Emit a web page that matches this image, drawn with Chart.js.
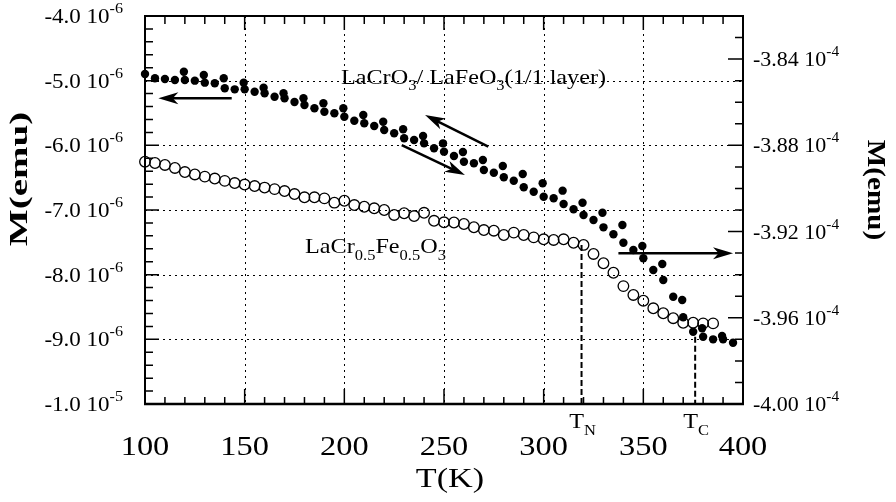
<!DOCTYPE html>
<html>
<head>
<meta charset="utf-8">
<title>M(T)</title>
<script src="https://cdn.jsdelivr.net/npm/chart.js@4.4.1/dist/chart.umd.min.js"></script>
<style>
  html, body { margin: 0; padding: 0; background: #fff; }
  canvas { display: block; }
</style>
</head>
<body>
<canvas id="chart" width="896" height="502"></canvas>
<script>
// LaCr0.5Fe0.5O3 (open circles), right axis, M in units of 1e-4 emu
const tempOpen = [100,105,110,115,120,125,130,135,140,145,150,155,160,165,170,175,180,185,190,195,
  200,205,210,215,220,225,230,235,240,245,250,255,260,265,270,275,280,285,290,295,
  300,305,310,315,320,325,330,335,340,345,350,355,360,365,370,375,380,385];
const momentOpen = [-3.8876,-3.8882,-3.8891,-3.8905,-3.8924,-3.8935,-3.8945,-3.8954,-3.8965,-3.8975,
  -3.8982,-3.8989,-3.8996,-3.9003,-3.9012,-3.9026,-3.9041,-3.9041,-3.9046,-3.9066,
  -3.9057,-3.9077,-3.9085,-3.9092,-3.9100,-3.9123,-3.9115,-3.9128,-3.9113,-3.9150,
  -3.9157,-3.9158,-3.9165,-3.9180,-3.9193,-3.9196,-3.9216,-3.9205,-3.9216,-3.9227,
  -3.9236,-3.9239,-3.9236,-3.9252,-3.9262,-3.9304,-3.9347,-3.9391,-3.9453,-3.9494,
  -3.9521,-3.9556,-3.9579,-3.9602,-3.9623,-3.9623,-3.9626,-3.9626];

// LaCrO3/LaFeO3 superlattice (filled dots), left axis, M in units of 1e-6 emu
const tempFilledA = [100,105,110,115,120,125,130,135,140,145,150,155,160,165,170,175,180,185,190,195,
  200,205,210,215,220,225,230,235,240,245,250,255,260,265,270,275,280,285,290,295,
  300,305,310,315,320,325,330,335,340,345,350,355,360,365,370,375,380,385,390,395];
const momentFilledA = [-4.897,-4.963,-4.974,-4.990,-4.990,-5.000,-5.031,-5.041,-5.118,-5.134,
  -5.134,-5.171,-5.195,-5.248,-5.273,-5.330,-5.376,-5.427,-5.480,-5.505,
  -5.557,-5.619,-5.659,-5.701,-5.763,-5.814,-5.891,-5.918,-5.969,-6.046,
  -6.098,-6.165,-6.253,-6.278,-6.381,-6.423,-6.494,-6.547,-6.649,-6.717,
  -6.794,-6.819,-6.907,-6.989,-7.077,-7.155,-7.268,-7.376,-7.506,-7.619,
  -7.747,-7.928,-8.082,-8.341,-8.659,-8.882,-8.959,-9.000,-9.000,-9.052];
const tempFilledB = [119.5,129.5,139.5,149.5,159.5,169.5,179.5,189.5,199.5,209.5,219.5,229.5,239.5,249.5,
  259.5,269.5,279.5,289.5,299.5,309.5,319.5,329.5,339.5,349.5,359.5,369.5,379.5,389.5];
const momentFilledB = [-4.861,-4.912,-4.963,-5.031,-5.109,-5.195,-5.273,-5.350,-5.427,-5.531,
  -5.635,-5.752,-5.856,-5.969,-6.103,-6.227,-6.320,-6.443,-6.587,-6.701,
  -6.887,-7.042,-7.232,-7.557,-7.835,-8.392,-8.829,-8.948];

const xTicks = [100, 150, 200, 250, 300, 350, 400];
const xGrid = [150, 200, 250, 300, 350];
const leftTicks = [-4, -5, -6, -7, -8, -9, -10];
const leftTickLabels = [['-4.0', '-6'], ['-5.0', '-6'], ['-6.0', '-6'], ['-7.0', '-6'],
  ['-8.0', '-6'], ['-9.0', '-6'], ['-1.0', '-5']];
const leftGrid = [-5, -6, -7, -8, -9];
const rightTicks = [-3.84, -3.88, -3.92, -3.96, -4.00];
const rightTickLabels = [['-3.84', '-4'], ['-3.88', '-4'], ['-3.92', '-4'], ['-3.96', '-4'], ['-4.00', '-4']];

// transition temperatures (dashed lines), top end in left-axis units
const transitionNames = ['N', 'C'];
const transitionTemps = [319, 376];
const transitionTops = [-7.54, -8.96];

// arrows: [T1, M1, T2, M2] in left-axis coordinates
const arrows = [
  [143.5, -5.273, 106.7, -5.273],
  [272.2, -6.021, 240.5, -5.531],
  [228.8, -5.995, 260.5, -6.459],
  [337.5, -7.670, 395.0, -7.670]
];
const sampleLabels = [
  { parts: [['LaCrO', 'n'], ['3', 'sub'], ['/ LaFeO', 'n'], ['3', 'sub'], ['(1/1 layer)', 'n']], temp: 198.3, m: -5.044 },
  { parts: [['LaCr', 'n'], ['0.5', 'sub'], ['Fe', 'n'], ['0.5', 'sub'], ['O', 'n'], ['3', 'sub']], temp: 180.3, m: -7.670 }
];

const FONT = '"Liberation Serif", "Times New Roman", serif';

function toPoints(xs, ys) {
  return xs.map((t, i) => ({ x: t, y: ys[i] }));
}

// draws text made of normal / sub / sup pieces, stretched horizontally by sx
function richText(ctx, parts, x, y, size, align, sx, bold) {
  const w8 = bold ? 'bold ' : '';
  const fontFor = (k) => w8 + (k === 'n' ? size : Math.round(size * 0.68)) + 'px ' + FONT;
  ctx.save();
  ctx.translate(x, y);
  ctx.scale(sx, 1);
  ctx.textAlign = 'left';
  ctx.textBaseline = 'alphabetic';
  let w = 0;
  parts.forEach(p => { ctx.font = fontFor(p[1]); w += ctx.measureText(p[0]).width; });
  let cx = align === 'right' ? -w : align === 'center' ? -w / 2 : 0;
  parts.forEach(p => {
    ctx.font = fontFor(p[1]);
    const dy = p[1] === 'sub' ? size * 0.3 : p[1] === 'sup' ? -size * 0.5 : 0;
    ctx.fillText(p[0], cx, dy);
    cx += ctx.measureText(p[0]).width;
  });
  ctx.restore();
}

function drawArrow(ctx, x1, y1, x2, y2) {
  const ang = Math.atan2(y2 - y1, x2 - x1), L = 20, W = 6;
  const c = Math.cos(ang), s = Math.sin(ang);
  ctx.beginPath();
  ctx.moveTo(x1, y1);
  ctx.lineTo(x2 - L * 0.7 * c, y2 - L * 0.7 * s);
  ctx.stroke();
  ctx.beginPath();
  ctx.moveTo(x2, y2);
  ctx.lineTo(x2 - L * c + W * s, y2 - L * s - W * c);
  ctx.lineTo(x2 - L * 0.72 * c, y2 - L * 0.72 * s);
  ctx.lineTo(x2 - L * c - W * s, y2 - L * s + W * c);
  ctx.closePath();
  ctx.fill();
}

const decorations = {
  id: 'decorations',
  beforeDatasetsDraw(chart) {
    const { ctx, chartArea: a, scales: { x, y } } = chart;
    ctx.save();
    ctx.strokeStyle = '#000';
    ctx.lineWidth = 1;
    ctx.setLineDash([2, 4]);
    ctx.beginPath();
    xGrid.forEach(v => {
      const px = Math.round(x.getPixelForValue(v)) + 0.5;
      ctx.moveTo(px, a.top); ctx.lineTo(px, a.bottom);
    });
    leftGrid.forEach(v => {
      const py = Math.round(y.getPixelForValue(v)) + 0.5;
      ctx.moveTo(a.left, py); ctx.lineTo(a.right, py);
    });
    ctx.stroke();

    ctx.setLineDash([6, 3]);
    ctx.lineWidth = 2;
    ctx.beginPath();
    transitionTemps.forEach((t, i) => {
      const px = x.getPixelForValue(t);
      ctx.moveTo(px, y.getPixelForValue(transitionTops[i]));
      ctx.lineTo(px, a.bottom);
    });
    ctx.stroke();
    ctx.restore();
  },
  afterDatasetsDraw(chart) {
    const { ctx, chartArea: a, scales: { x, y, y2 } } = chart;
    ctx.save();
    ctx.strokeStyle = '#000';
    ctx.fillStyle = '#000';
    ctx.setLineDash([]);

    // frame
    ctx.lineWidth = 2;
    ctx.strokeRect(a.left, a.top, a.right - a.left, a.bottom - a.top);
    ctx.lineWidth = 2.5;
    ctx.beginPath(); ctx.moveTo(a.left - 1, a.bottom); ctx.lineTo(a.right + 1, a.bottom); ctx.stroke();

    // inward ticks
    ctx.lineWidth = 1.5;
    ctx.beginPath();
    for (let i = 0; i <= 30; i++) {
      const px = x.getPixelForValue(100 + i * 10);
      const major = i % 5 === 0;
      ctx.moveTo(px, a.bottom); ctx.lineTo(px, a.bottom - (major ? 15 : 7));
      ctx.moveTo(px, a.top); ctx.lineTo(px, a.top + (major ? 14 : 8));
    }
    for (let i = 0; i <= 30; i++) {
      const py = y.getPixelForValue(-10 + i * 0.2);
      ctx.moveTo(a.left, py); ctx.lineTo(a.left + (i % 5 === 0 ? 14 : 8), py);
    }
    for (let i = 0; i <= 18; i++) {
      const py = y2.getPixelForValue(-4 + i * 0.01);
      ctx.moveTo(a.right, py); ctx.lineTo(a.right - (i % 4 === 0 ? 15 : 8), py);
    }
    ctx.stroke();

    // tick labels
    xTicks.forEach(v => richText(ctx, [[String(v), 'n']], x.getPixelForValue(v), 455, 27, 'center', 1.2));
    leftTicks.forEach((v, i) => {
      const lb = leftTickLabels[i];
      richText(ctx, [[lb[0] + ' 10', 'n'], [lb[1], 'sup']], a.left - 22, y.getPixelForValue(v) + 7, 20, 'right', 1.15);
    });
    rightTicks.forEach((v, i) => {
      const lb = rightTickLabels[i];
      richText(ctx, [[lb[0] + ' 10', 'n'], [lb[1], 'sup']], a.right + 10, y2.getPixelForValue(v) + 7, 20, 'left', 1.1);
    });

    // axis titles
    richText(ctx, [['T(K)', 'n']], (a.left + a.right) / 2 + 6, 487, 28, 'center', 1.22);
    ctx.save();
    ctx.translate(20, 179);
    ctx.rotate(-Math.PI / 2);
    richText(ctx, [['M(emu)', 'n']], 0, 7, 26, 'center', 1.5, true);
    ctx.restore();
    ctx.save();
    ctx.translate(875, 190);
    ctx.rotate(Math.PI / 2);
    richText(ctx, [['M(emu)', 'n']], 0, 7, 26, 'center', 1.12, true);
    ctx.restore();

    // T_N, T_C
    transitionTemps.forEach((t, i) => {
      richText(ctx, [['T', 'n'], [transitionNames[i], 'sub']], x.getPixelForValue(t) + 1, 428, 22, 'center', 1.1);
    });

    // arrows
    ctx.lineWidth = 2.5;
    arrows.forEach(r => drawArrow(ctx, x.getPixelForValue(r[0]), y.getPixelForValue(r[1]),
      x.getPixelForValue(r[2]), y.getPixelForValue(r[3])));

    // sample labels
    sampleLabels.forEach(s => richText(ctx, s.parts, x.getPixelForValue(s.temp), y.getPixelForValue(s.m), 22, 'left', 1.1));
    ctx.restore();
  }
};

const ctx = document.getElementById('chart').getContext('2d');
new Chart(ctx, {
  type: 'scatter',
  data: {
    datasets: [
      {
        label: 'LaCrO3/LaFeO3 (a)',
        data: toPoints(tempFilledA, momentFilledA),
        yAxisID: 'y',
        pointRadius: 4.2,
        pointBackgroundColor: '#000',
        pointBorderWidth: 0,
        clip: false
      },
      {
        label: 'LaCrO3/LaFeO3 (b)',
        data: toPoints(tempFilledB, momentFilledB),
        yAxisID: 'y',
        pointRadius: 4.2,
        pointBackgroundColor: '#000',
        pointBorderWidth: 0,
        clip: false
      },
      {
        label: 'LaCr0.5Fe0.5O3',
        data: toPoints(tempOpen, momentOpen),
        yAxisID: 'y2',
        pointRadius: 5.3,
        pointBackgroundColor: 'rgba(255,255,255,0)',
        pointBorderColor: '#000',
        pointBorderWidth: 1.3,
        clip: false
      }
    ]
  },
  options: {
    responsive: false,
    devicePixelRatio: 1,
    animation: false,
    events: [],
    layout: { padding: { top: 16, left: 0, right: 0, bottom: 0 } },
    plugins: { legend: { display: false }, tooltip: { enabled: false } },
    scales: {
      x: {
        type: 'linear', position: 'bottom', min: 100, max: 400,
        ticks: { display: false }, grid: { display: false }, border: { display: false },
        afterFit: (s) => { s.height = 98; }
      },
      y: {
        type: 'linear', position: 'left', min: -10, max: -4,
        ticks: { display: false }, grid: { display: false }, border: { display: false },
        afterFit: (s) => { s.width = 145; }
      },
      y2: {
        type: 'linear', position: 'right', min: -4.00, max: -3.82,
        ticks: { display: false }, grid: { display: false }, border: { display: false },
        afterFit: (s) => { s.width = 153; }
      }
    }
  },
  plugins: [decorations]
});
</script>
</body>
</html>
